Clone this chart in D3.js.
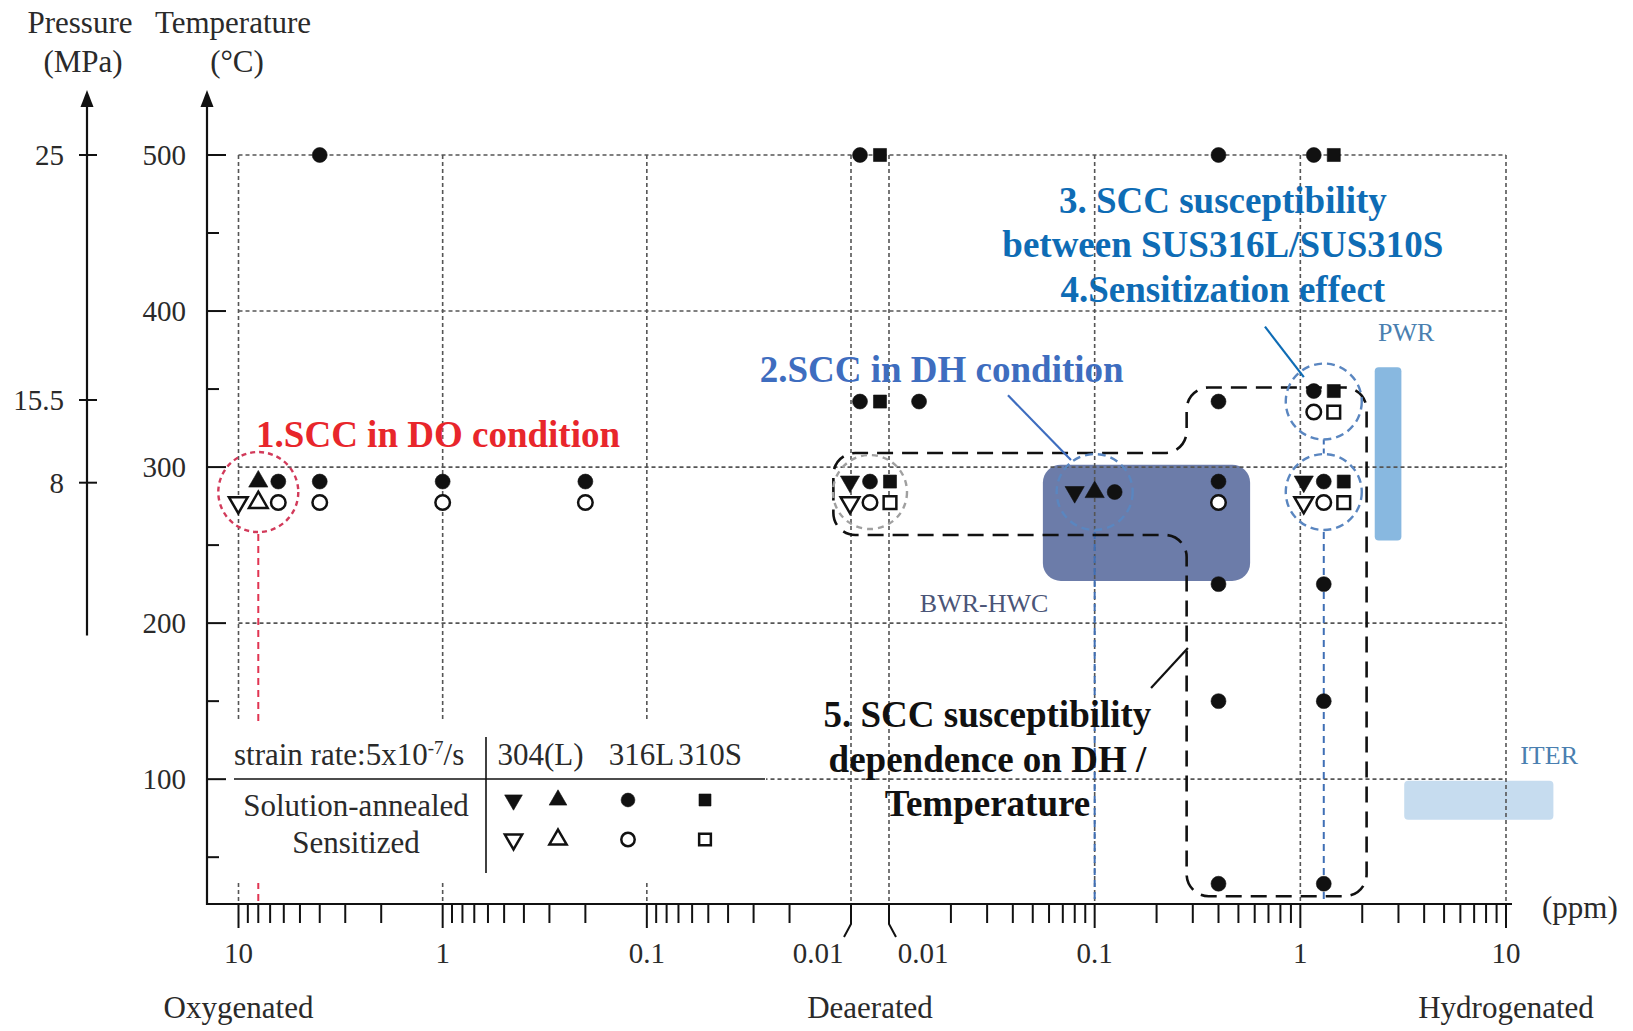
<!DOCTYPE html>
<html>
<head>
<meta charset="utf-8">
<script src="https://cdn.jsdelivr.net/npm/d3@7"></script>
<style>
  body { margin: 0; background: #fff; }
  svg { display: block; font-family: "Liberation Serif", "Times New Roman", serif; }
</style>
</head>
<body>
<svg id="chart" width="1633" height="1031"></svg>
<script>
// ---- data ----
var tempTicks = [50, 100, 150, 200, 250, 300, 350, 400, 450, 500];
var tempLabels = [100, 200, 300, 400, 500];
var pressureTicks = ['25', '15.5', '8'];
var pressureAtTemp = [500, 343, 290];   // where each pressure sits on the temperature axis
var oxyMajor = [10, 1, 0.1];
var hydroMajor = [0.1, 1, 10];
var minorTicks = [2, 3, 4, 5, 6, 7, 8, 9, 0.2, 0.3, 0.4, 0.5, 0.6, 0.7, 0.8, 0.9,
  0.02, 0.03, 0.04, 0.05, 0.06, 0.07, 0.08, 0.09];

var materials = ['304', '304L', '316L', '310S'];
var legendHeader = ['304(L)', '316L', '310S'];

// sa = solution-annealed (filled), sen = sensitized (open)
var oxyPoints = [
  {ppm: 4, T: 500, sa: ['316L'], sen: []},
  {ppm: 8, T: 284, sa: [null, '304L', '316L'], sen: ['304', '304L', '316L']},
  {ppm: 4, T: 284, sa: ['316L'], sen: ['316L']},
  {ppm: 1, T: 284, sa: ['316L'], sen: ['316L']},
  {ppm: 0.2, T: 284, sa: ['316L'], sen: ['316L']}
];
var deaerPoints = [
  {T: 500, sa: ['316L', '310S'], sen: []},
  {T: 342, sa: ['316L', '310S'], sen: []},
  {T: 284, sa: ['304', '316L', '310S'], sen: ['304', '316L', '310S']}
];
var hydroPoints = [
  {ppm: 0.014, T: 342, sa: ['316L'], sen: []},
  {ppm: 0.1, T: 284, sa: ['304', '304L', '316L'], sen: []},
  {ppm: 0.4, T: 500, sa: ['316L'], sen: []},
  {ppm: 0.4, T: 342, sa: ['316L'], sen: []},
  {ppm: 0.4, T: 284, sa: ['316L'], sen: ['316L']},
  {ppm: 0.4, T: 225, sa: ['316L'], sen: []},
  {ppm: 0.4, T: 150, sa: ['316L'], sen: []},
  {ppm: 0.4, T: 33, sa: ['316L'], sen: []},
  {ppm: 1.3, T: 500, sa: ['316L', '310S'], sen: []},
  {ppm: 1.3, T: 342, sa: ['316L', '310S'], sen: ['316L', '310S']},
  {ppm: 1.3, T: 284, sa: ['304', '316L', '310S'], sen: ['304', '316L', '310S']},
  {ppm: 1.3, T: 225, sa: ['316L'], sen: []},
  {ppm: 1.3, T: 150, sa: ['316L'], sen: []},
  {ppm: 1.3, T: 33, sa: ['316L'], sen: []}
];

// operating windows
var regions = [
  {name: 'BWR-HWC', ppm: [0.056, 0.57], T: [227, 301.5], fill: '#6c7ca9', rx: 18,
    label: {ppm: 0.029, T: 207, color: '#4b5577'}},
  {name: 'PWR', ppm: [2.3, 3.1], T: [253, 364], fill: '#88b8e0', rx: 4,
    label: {ppm: 3.27, T: 380.5, color: '#4a7fb0'}},
  {name: 'ITER', ppm: [3.2, 17], T: [74, 99], fill: '#c6dcef', rx: 4,
    label: {ppm: 16.2, T: 110, color: '#4a7fb0'}}
];

// dashed rings around test groups
var rings = [
  {zone: 'O', ppm: 8, T: 284, r: 40, color: '#d23a5a', dash: '5,4'},
  {zone: 'D', ppm: 0, T: 284, r: 37, color: '#a0a0a0', dash: '6,5'},
  {zone: 'H', ppm: 0.1, T: 284, r: 38, color: '#5a86c0', dash: '8,5'},
  {zone: 'H', ppm: 1.3, T: 342, r: 38, color: '#5a86c0', dash: '8,5'},
  {zone: 'H', ppm: 1.3, T: 284, r: 38, color: '#5a86c0', dash: '8,5'}
];

// outline of topic 5 (zone, ppm, T, corner radius)
var dhOutline = [
  ['O', 0.0122, 309, 22],
  ['H', 0.28, 309, 22],
  ['H', 0.28, 351, 22],
  ['H', 2.1, 351, 22],
  ['H', 2.1, 25, 22],
  ['H', 0.28, 25, 22],
  ['H', 0.28, 256.5, 22],
  ['O', 0.0122, 256.5, 22]
];

var notes = [
  {lines: ['1.SCC in DO condition'], zone: 'O', ppm: 8.2, T: 313, anchor: 'start', color: '#e8262b'},
  {lines: ['2.SCC in DH condition'], zone: 'O', ppm: 0.028, T: 354.5, anchor: 'start', color: '#3e6dbf'},
  {lines: ['3. SCC susceptibility', 'between SUS316L/SUS310S', '4.Sensitization effect'],
    zone: 'H', ppm: 0.42, T: 463, anchor: 'middle', color: '#0e6cb5'},
  {lines: ['5. SCC susceptibility', 'dependence on DH /', 'Temperature'],
    zone: 'H', ppm: 0.0301, T: 133.4, anchor: 'middle', color: '#111'}
];
var leaders = [
  {from: ['H', 0.0379, 346], to: ['H', 0.0767, 304.5], color: '#3e6dbf'},
  {from: ['H', 0.673, 390], to: ['H', 1.04, 357.7], color: '#0e6cb5'},
  {from: ['H', 0.188, 158.4], to: ['H', 0.284, 184], color: '#111'}
];

// ---- layout ----
var axisY = 904, tempAxisX = 207, presAxisX = 87;
var ink = '#111', textInk = '#2a2a2a';

var svg = d3.select('#chart');

var xO = d3.scaleLog().domain([10, 0.01]).range([238.5, 851]);
var xH = d3.scaleLog().domain([0.01, 10]).range([889, 1506]);
var y = d3.scaleLinear().domain([20, 500]).range([axisY, 155]);

function xAt(zone, ppm) {
  if (zone === 'O') return xO(ppm);
  if (zone === 'H') return xH(ppm);
  return (xO(0.01) + xH(0.01)) / 2;
}

// windows
svg.append('g').selectAll('rect')
  .data(regions)
  .enter().append('rect')
  .attr('x', function(d) { return xH(d.ppm[0]); })
  .attr('width', function(d) { return xH(d.ppm[1]) - xH(d.ppm[0]); })
  .attr('y', function(d) { return y(d.T[1]); })
  .attr('height', function(d) { return y(d.T[0]) - y(d.T[1]); })
  .attr('rx', function(d) { return d.rx; })
  .attr('fill', function(d) { return d.fill; });

// grid
var grid = svg.append('g')
  .attr('stroke', '#555').attr('stroke-width', 1.6).attr('stroke-dasharray', '4,3');
grid.selectAll('line.h')
  .data(tempLabels)
  .enter().append('line')
  .attr('x1', xO(10)).attr('x2', xH(10))
  .attr('y1', function(d) { return y(d); }).attr('y2', function(d) { return y(d); });
var vGrid = oxyMajor.concat([0.01]).map(function(v) { return xO(v); })
  .concat([0.01].concat(hydroMajor).map(function(v) { return xH(v); }));
grid.selectAll('line.v')
  .data(vGrid)
  .enter().append('line')
  .attr('x1', function(d) { return d; }).attr('x2', function(d) { return d; })
  .attr('y1', y(500)).attr('y2', axisY);

// drop lines from rings
var drops = svg.append('g').attr('fill', 'none').attr('stroke-width', 2);
drops.append('line')
  .attr('x1', xO(8)).attr('x2', xO(8)).attr('y1', y(284) + 42).attr('y2', axisY)
  .attr('stroke', '#e03452').attr('stroke-dasharray', '7,5');
[0.1, 1.3].forEach(function(v) {
  drops.append('line')
    .attr('x1', xH(v)).attr('x2', xH(v)).attr('y1', y(284) + 40).attr('y2', axisY)
    .attr('stroke', '#3f6fb5').attr('stroke-dasharray', '7,5');
});
drops.append('line')
  .attr('x1', xH(1.3)).attr('x2', xH(1.3)).attr('y1', y(342) + 38).attr('y2', y(284) - 38)
  .attr('stroke', '#3f6fb5').attr('stroke-dasharray', '5,4');

// ---- legend ----
var legend = svg.append('g');
legend.append('rect')
  .attr('x', 212).attr('y', 722).attr('width', 554).attr('height', 161).attr('fill', '#fff');
legend.append('line').attr('x1', 234).attr('x2', 765).attr('y1', 779).attr('y2', 779)
  .attr('stroke', ink).attr('stroke-width', 1.6);
legend.append('line').attr('x1', 486).attr('x2', 486).attr('y1', 737).attr('y2', 873)
  .attr('stroke', ink).attr('stroke-width', 1.6);
var lt = legend.append('text').attr('x', 234).attr('y', 765)
  .attr('font-size', 31).attr('fill', textInk);
lt.append('tspan').text('strain rate:5x10');
lt.append('tspan').attr('dy', -11).attr('font-size', 19).text('-7');
lt.append('tspan').attr('dy', 11).text('/s');
var headX = [540.5, 641.5, 710];
legend.selectAll('text.head')
  .data(legendHeader)
  .enter().append('text')
  .attr('x', function(d, i) { return headX[i]; })
  .attr('y', 765)
  .attr('text-anchor', 'middle')
  .attr('font-size', 31).attr('fill', textInk)
  .text(function(d) { return d; });
legend.selectAll('text.row')
  .data(['Solution-annealed', 'Sensitized'])
  .enter().append('text')
  .attr('x', 356)
  .attr('y', function(d, i) { return i ? 853 : 816; })
  .attr('text-anchor', 'middle')
  .attr('font-size', 31).attr('fill', textInk)
  .text(function(d) { return d; });

// ---- markers ----
function shapeOf(m) {
  if (m === '316L') return d3.symbolCircle;
  if (m === '310S') return d3.symbolSquare;
  return d3.symbolTriangle;
}
function sizeOf(m, open, scale) {
  var s = m === '316L' ? 175 : m === '310S' ? 170 : 160;
  return (open ? s * 0.95 : s) * (scale || 1);
}
function drawSymbol(sel, scale) {
  sel.attr('d', function(d) {
      return d3.symbol().type(shapeOf(d.mat)).size(sizeOf(d.mat, d.open, scale))();
    })
    .attr('fill', function(d) { return d.open ? '#fff' : ink; })
    .attr('stroke', ink)
    .attr('stroke-width', function(d) { return d.open ? 2.5 : 0.6; });
}

var legendSymX = [513.5, 558, 628, 705];
var legendSyms = [];
[false, true].forEach(function(open) {
  materials.forEach(function(m, i) {
    legendSyms.push({mat: m, open: open, x: legendSymX[i], y: open ? 839.5 : 800});
  });
});
legend.selectAll('path')
  .data(legendSyms)
  .enter().append('path')
  .attr('transform', function(d) {
    return 'translate(' + d.x + ',' + d.y + ')' + (d.mat === '304' ? ' rotate(180)' : '');
  })
  .call(drawSymbol, 0.85);

// ---- axes ----
var axes = svg.append('g').attr('stroke', ink).attr('fill', 'none');
axes.append('line').attr('x1', tempAxisX).attr('x2', 1512).attr('y1', axisY).attr('y2', axisY)
  .attr('stroke-width', 2.2);
axes.append('line').attr('x1', tempAxisX).attr('x2', tempAxisX).attr('y1', axisY + 1).attr('y2', y(500) - 55)
  .attr('stroke-width', 2.2);
axes.append('line').attr('x1', presAxisX).attr('x2', presAxisX).attr('y1', y(192)).attr('y2', y(500) - 55)
  .attr('stroke-width', 2.2);
[tempAxisX, presAxisX].forEach(function(ax) {
  svg.append('path')
    .attr('d', 'M' + ax + ',' + (y(500) - 65) + 'l-6.5,17h13z')
    .attr('fill', ink);
});
axes.selectAll('line.tt')
  .data(tempTicks)
  .enter().append('line')
  .attr('x1', tempAxisX)
  .attr('x2', function(d) { return tempAxisX + (d % 100 === 0 ? 19 : 12); })
  .attr('y1', function(d) { return y(d); }).attr('y2', function(d) { return y(d); })
  .attr('stroke-width', 2);
axes.selectAll('line.pt')
  .data(pressureAtTemp)
  .enter().append('line')
  .attr('x1', presAxisX - 8).attr('x2', presAxisX + 10)
  .attr('y1', function(d) { return y(d); }).attr('y2', function(d) { return y(d); })
  .attr('stroke-width', 2);

svg.append('g').selectAll('text')
  .data(tempLabels)
  .enter().append('text')
  .attr('x', 186).attr('y', function(d) { return y(d); })
  .attr('dy', '0.35em').attr('text-anchor', 'end')
  .attr('font-size', 29).attr('fill', textInk)
  .text(function(d) { return d; });
svg.append('g').selectAll('text')
  .data(pressureTicks)
  .enter().append('text')
  .attr('x', 64).attr('y', function(d, i) { return y(pressureAtTemp[i]); })
  .attr('dy', '0.35em').attr('text-anchor', 'end')
  .attr('font-size', 29).attr('fill', textInk)
  .text(function(d) { return d; });

var titles = svg.append('g').attr('font-size', 31).attr('fill', textInk).attr('text-anchor', 'middle');
titles.append('text').attr('x', presAxisX - 7).attr('y', 33).text('Pressure');
titles.append('text').attr('x', presAxisX - 4).attr('y', 72).text('(MPa)');
titles.append('text').attr('x', tempAxisX + 26).attr('y', 33).text('Temperature');
titles.append('text').attr('x', tempAxisX + 30).attr('y', 72).text('(\u00b0C)');

// x ticks
function tickSet(scale, values, len) {
  axes.append('g').selectAll('line')
    .data(values)
    .enter().append('line')
    .attr('x1', function(d) { return scale(d); }).attr('x2', function(d) { return scale(d); })
    .attr('y1', axisY).attr('y2', axisY + len)
    .attr('stroke-width', 2);
}
tickSet(xO, minorTicks, 19);
tickSet(xH, minorTicks, 19);
tickSet(xO, oxyMajor, 24);
tickSet(xH, hydroMajor, 24);
// broken 0.01 ticks
axes.append('path')
  .attr('d', 'M' + xO(0.01) + ',' + axisY + 'v20l-7,13')
  .attr('stroke-width', 2);
axes.append('path')
  .attr('d', 'M' + xH(0.01) + ',' + axisY + 'v20l7,13')
  .attr('stroke-width', 2);

var xLabels = oxyMajor.map(function(v) { return {x: xO(v), t: String(v)}; })
  .concat([{x: xO(0.01) - 33, t: '0.01'}, {x: xH(0.01) + 34, t: '0.01'}])
  .concat(hydroMajor.map(function(v) { return {x: xH(v), t: String(v)}; }));
svg.append('g').selectAll('text')
  .data(xLabels)
  .enter().append('text')
  .attr('x', function(d) { return d.x; }).attr('y', axisY + 59)
  .attr('text-anchor', 'middle')
  .attr('font-size', 29).attr('fill', textInk)
  .text(function(d) { return d.t; });
svg.append('text').attr('x', xH(10) + 36).attr('y', axisY + 14)
  .attr('font-size', 31).attr('fill', textInk).text('(ppm)');
svg.append('g').selectAll('text')
  .data([
    {x: xO(10), t: 'Oxygenated'},
    {x: xAt('D'), t: 'Deaerated'},
    {x: xH(10), t: 'Hydrogenated'}
  ])
  .enter().append('text')
  .attr('x', function(d) { return d.x; }).attr('y', axisY + 114)
  .attr('text-anchor', 'middle')
  .attr('font-size', 31).attr('fill', textInk)
  .text(function(d) { return d.t; });

// region labels
svg.append('g').selectAll('text')
  .data(regions)
  .enter().append('text')
  .attr('x', function(d) { return xH(d.label.ppm); })
  .attr('y', function(d) { return y(d.label.T); })
  .attr('text-anchor', 'middle')
  .attr('font-size', 26)
  .attr('fill', function(d) { return d.label.color; })
  .text(function(d) { return d.name; });

// ---- topic 5 outline ----
var outline = d3.path();
var opts = dhOutline.map(function(p) { return [xAt(p[0], p[1]), y(p[2]), p[3]]; });
var lastPt = opts[opts.length - 1];
outline.moveTo((lastPt[0] + opts[0][0]) / 2, (lastPt[1] + opts[0][1]) / 2);
opts.forEach(function(p, i) {
  var next = opts[(i + 1) % opts.length];
  outline.arcTo(p[0], p[1], next[0], next[1], p[2]);
});
outline.closePath();
svg.append('path')
  .attr('d', outline.toString())
  .attr('fill', 'none')
  .attr('stroke', ink)
  .attr('stroke-width', 2.6)
  .attr('stroke-dasharray', '16,9');

// rings
svg.append('g').selectAll('circle')
  .data(rings)
  .enter().append('circle')
  .attr('cx', function(d) { return xAt(d.zone, d.ppm); })
  .attr('cy', function(d) { return y(d.T); })
  .attr('r', function(d) { return d.r; })
  .attr('fill', 'none')
  .attr('stroke', function(d) { return d.color; })
  .attr('stroke-width', 2.4)
  .attr('stroke-dasharray', function(d) { return d.dash; });

// test markers
var markers = [];
function addGroups(zone, groups) {
  groups.forEach(function(g) {
    var both = g.sa.length && g.sen.length;
    var n = Math.max(g.sa.length, g.sen.length);
    [['sa', g.sa], ['sen', g.sen]].forEach(function(row) {
      row[1].forEach(function(m, i) {
        if (!m) return;
        markers.push({
          zone: zone, ppm: g.ppm, T: g.T, mat: m, open: row[0] === 'sen',
          col: i - (n - 1) / 2,
          row: both ? (row[0] === 'sa' ? -1 : 1) : 0
        });
      });
    });
  });
}
addGroups('O', oxyPoints);
addGroups('D', deaerPoints);
addGroups('H', hydroPoints);

svg.append('g').selectAll('path')
  .data(markers)
  .enter().append('path')
  .attr('transform', function(d) {
    var px = xAt(d.zone, d.ppm) + d.col * 20;
    var py = y(d.T) + d.row * 10.5;
    return 'translate(' + px + ',' + py + ')' + (d.mat === '304' ? ' rotate(180)' : '');
  })
  .call(drawSymbol, 1);

// ---- annotations ----
svg.append('g').selectAll('line')
  .data(leaders)
  .enter().append('line')
  .attr('x1', function(d) { return xAt(d.from[0], d.from[1]); })
  .attr('y1', function(d) { return y(d.from[2]); })
  .attr('x2', function(d) { return xAt(d.to[0], d.to[1]); })
  .attr('y2', function(d) { return y(d.to[2]); })
  .attr('stroke', function(d) { return d.color; })
  .attr('stroke-width', 2.2);

var noteText = svg.append('g').selectAll('text')
  .data(notes)
  .enter().append('text')
  .attr('font-size', 37).attr('font-weight', 'bold')
  .attr('text-anchor', function(d) { return d.anchor; })
  .attr('fill', function(d) { return d.color; });
noteText.selectAll('tspan')
  .data(function(d) {
    return d.lines.map(function(l, i) { return {t: l, x: xAt(d.zone, d.ppm), y: y(d.T) + i * 44.5}; });
  })
  .enter().append('tspan')
  .attr('x', function(d) { return d.x; })
  .attr('y', function(d) { return d.y; })
  .text(function(d) { return d.t; });
</script>
</body>
</html>
